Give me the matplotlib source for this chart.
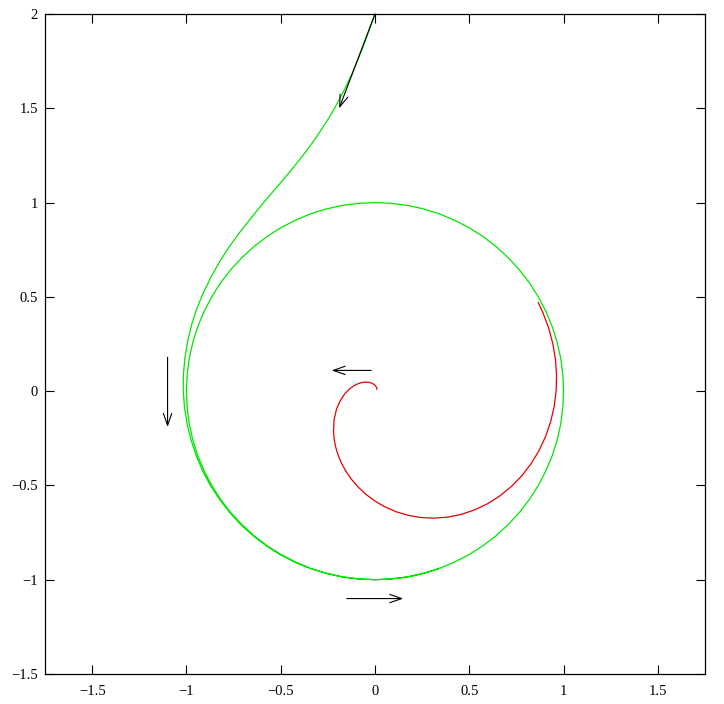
import matplotlib
matplotlib.use("Agg")
import matplotlib.pyplot as plt

# ---- data ----
# green trajectory: starts at (0, 2), approaches the unit circle from outside,
# then runs once more around the circle
green_x = [0.000, -0.064, -0.118, -0.167, -0.212, -0.253, -0.311, -0.365, -0.432,
           -0.510, -0.583, -0.650, -0.712, -0.770, -0.822, -0.868, -0.909, -0.944,
           -0.972, -0.993, -1.008, -1.016, -1.017, -1.010, -0.996, -0.975, -0.947,
           -0.913, -0.871, -0.823, -0.769, -0.710, -0.645, -0.575, -0.501, -0.423,
           -0.342, -0.259, -0.174, -0.087, 0.000, 0.087, 0.174, 0.259, 0.342, 0.423,
           0.500, 0.574, 0.643, 0.707, 0.766, 0.819, 0.866, 0.906, 0.940, 0.966,
           0.985, 0.996, 1.000, 0.996, 0.985, 0.966, 0.940, 0.906, 0.866, 0.819,
           0.766, 0.707, 0.643, 0.574, 0.500, 0.423, 0.342, 0.259, 0.174, 0.087,
           0.000, -0.087, -0.174, -0.259, -0.342, -0.423, -0.500, -0.574, -0.643,
           -0.707, -0.766, -0.819, -0.866, -0.906, -0.940, -0.966, -0.985, -0.996,
           -1.000, -0.996, -0.985, -0.966, -0.940, -0.906, -0.866, -0.819, -0.766,
           -0.707, -0.643, -0.574, -0.500, -0.423, -0.342, -0.259, -0.174, -0.087,
           0.000, 0.087, 0.174, 0.259, 0.342]
green_y = [2.000, 1.823, 1.692, 1.589, 1.505, 1.435, 1.347, 1.272, 1.187,
           1.094, 1.009, 0.928, 0.849, 0.770, 0.690, 0.608, 0.525, 0.440,
           0.354, 0.266, 0.178, 0.089, 0.000, -0.088, -0.176, -0.261, -0.345,
           -0.426, -0.503, -0.576, -0.645, -0.710, -0.768, -0.821, -0.868, -0.908,
           -0.941, -0.966, -0.985, -0.996, -1.000, -0.996, -0.985, -0.966, -0.940, -0.906,
           -0.866, -0.819, -0.766, -0.707, -0.643, -0.574, -0.500, -0.423, -0.342, -0.259,
           -0.174, -0.087, 0.000, 0.087, 0.174, 0.259, 0.342, 0.423, 0.500, 0.574,
           0.643, 0.707, 0.766, 0.819, 0.866, 0.906, 0.940, 0.966, 0.985, 0.996,
           1.000, 0.996, 0.985, 0.966, 0.940, 0.906, 0.866, 0.819, 0.766,
           0.707, 0.643, 0.574, 0.500, 0.423, 0.342, 0.259, 0.174, 0.087,
           0.000, -0.087, -0.174, -0.259, -0.342, -0.423, -0.500, -0.574, -0.643,
           -0.707, -0.766, -0.819, -0.866, -0.906, -0.940, -0.966, -0.985, -0.996,
           -1.000, -0.996, -0.985, -0.966, -0.940]

# red trajectory: starts next to the origin and spirals out towards the circle
red_x = [0.0100, 0.0097, 0.0085, 0.0062, 0.0025, -0.0029, -0.0104, -0.0202, -0.0327,
         -0.0480, -0.0662, -0.0870, -0.1102, -0.1350, -0.1602, -0.1839, -0.2039,
         -0.2172, -0.2200, -0.2162, -0.2083, -0.1957, -0.1779, -0.1545, -0.1252,
         -0.0896, -0.0479, 0.0000, 0.0538, 0.1128, 0.1765, 0.2439, 0.3140, 0.3857,
         0.4576, 0.5283, 0.5970, 0.6621, 0.7229, 0.7780, 0.8271, 0.8693, 0.9039,
         0.9310, 0.9499, 0.9605, 0.9629, 0.9569, 0.9427, 0.9207, 0.8908, 0.8656]
red_y = [0.0100, 0.0138, 0.0182, 0.0231, 0.0283, 0.0337, 0.0389, 0.0434, 0.0467,
         0.0480, 0.0463, 0.0406, 0.0295, 0.0118, -0.0140, -0.0493, -0.0951,
         -0.1521, -0.2200, -0.2577, -0.2975, -0.3389, -0.3816, -0.4245, -0.4671,
         -0.5085, -0.5475, -0.5832, -0.6144, -0.6398, -0.6588, -0.6703, -0.6735, -0.6680,
         -0.6535, -0.6296, -0.5970, -0.5556, -0.5061, -0.4492, -0.3857, -0.3164, -0.2422,
         -0.1641, -0.0831, 0.0000, 0.0843, 0.1687, 0.2526, 0.3351, 0.4154, 0.4700]

arrow_start = [(0.0, 2.0), (-1.1, 0.18), (-0.15, -1.1), (-0.02, 0.11)]
arrow_end = [(-0.19, 1.5), (-1.1, -0.19), (0.15, -1.1), (-0.23, 0.11)]

xticks = [-1.5, -1, -0.5, 0, 0.5, 1, 1.5]
yticks = [-1.5, -1, -0.5, 0, 0.5, 1, 1.5, 2]

# ---- figure ----
plt.rcParams['font.family'] = ['Liberation Serif', 'DejaVu Serif']
fig = plt.figure(figsize=(7.24, 7.04), dpi=100)
ax = fig.add_axes([45/724, 30/704, 660/724, 660/704])
ax.set_xlim(-1.75, 1.75)
ax.set_ylim(-1.5, 2)

ax.plot(green_x, green_y, color='#00e600', lw=0.9, solid_joinstyle='round')
ax.plot(red_x, red_y, color='#e60000', lw=0.9, solid_joinstyle='round')

for s, e in zip(arrow_start, arrow_end):
    ax.annotate('', xy=e, xytext=s,
                arrowprops=dict(arrowstyle='->,head_length=0.85,head_width=0.3',
                                color='black', lw=0.8, shrinkA=0, shrinkB=0))

def fmt(v):
    s = ('%g' % v)
    return s.replace('-', '\u2212')

ax.set_xticks(xticks)
ax.set_xticklabels([fmt(v) for v in xticks])
ax.set_yticks(yticks)
ax.set_yticklabels([fmt(v) for v in yticks])
ax.tick_params(direction='in', length=6.5, width=0.8, top=True, right=True,
               labelsize=10.5, colors='black')
ax.tick_params(axis='x', pad=8)
ax.tick_params(axis='y', pad=5)
for sp in ax.spines.values():
    sp.set_linewidth(0.9)

fig.savefig("out.png")
